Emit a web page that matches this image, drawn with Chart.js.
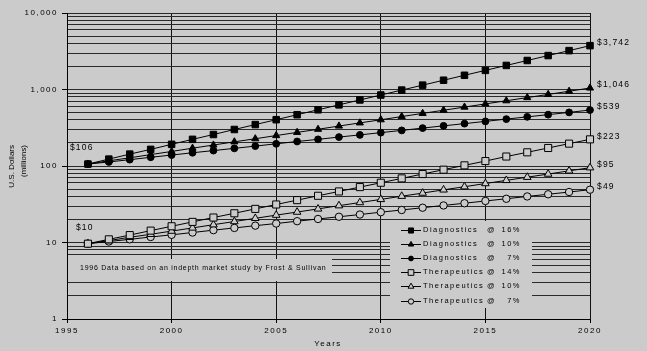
<!DOCTYPE html>
<html><head><meta charset="utf-8">
<script src="https://cdn.jsdelivr.net/npm/chart.js@4.4.1/dist/chart.umd.min.js"></script>
<style>html,body{margin:0;padding:0;background:#cbcbcb;}canvas{display:block}</style>
</head><body>
<canvas id="c" width="647" height="351"></canvas>
<script>
// ---- data ----
const years = [1996,1997,1998,1999,2000,2001,2002,2003,2004,2005,2006,2007,2008,2009,2010,2011,2012,2013,2014,2015,2016,2017,2018,2019,2020];
const diag16 = [106,123,143,165,192,223,258,300,348,403,468,543,630,730,847,983,1140,1322,1534,1779,2064,2394,2777,3222,3742];
const diag10 = [106,117,128,141,155,171,188,207,227,250,275,302,333,366,402,443,487,536,589,648,713,784,862,949,1046];
const diag7  = [106,113,121,130,139,149,159,170,182,195,209,223,239,255,273,292,313,335,358,383,410,439,469,502,539];
const ther14 = [9.65,11.0,12.5,14.3,16.3,18.6,21.2,24.1,27.5,31.4,35.8,40.8,46.5,53.0,60.4,68.9,78.5,89.5,102,116,133,151,172,196,223];
const ther10 = [9.65,10.6,11.7,12.8,14.1,15.5,17.1,18.8,20.7,22.8,25.0,27.5,30.3,33.3,36.6,40.3,44.3,48.8,53.6,59.0,64.9,71.4,78.5,86.4,95];
const ther7  = [9.65,10.3,11.0,11.8,12.6,13.5,14.5,15.5,16.6,17.7,19.0,20.3,21.7,23.2,24.9,26.6,28.5,30.5,32.6,34.9,37.3,40.0,42.7,45.7,49];
const seriesNames = ['Diagnostics','Diagnostics','Diagnostics','Therapeutics','Therapeutics','Therapeutics'];
const seriesRates = ['16%','10%','7%','14%','10%','7%'];
const xTickLabels = [1995,2000,2005,2010,2015,2020];
const yMajorTicks = [1,10,100,1000,10000];
const yMajorLabels = ['1','10','100','1,000','10,000'];
const noteText = '1996 Data based on an indepth market study by Frost & Sullivan';
const xTitle = 'Years';
const yTitle = ['U.S. Dollars','(millions)'];

// ---- styles ----
const BG = '#cbcbcb';
const FONT = '"Liberation Sans", Arial, Helvetica, sans-serif';
const allSeries = [diag16, diag10, diag7, ther14, ther10, ther7];
const styles = [
  {ps:'rect', r:4.6, fill:'#000'},
  {ps:'triangle', r:4.1, fill:'#000'},
  {ps:'circle', r:3.4, fill:'#000'},
  {ps:'rect', r:5, fill:BG},
  {ps:'triangle', r:4.4, fill:BG},
  {ps:'circle', r:3.7, fill:BG}
];

const yGridValues = [];
for (let e = 0; e < 4; e++) for (let s = 1; s < 10; s++) yGridValues.push(s * Math.pow(10, e));
yGridValues.push(10000);
const isMajor = v => yMajorTicks.indexOf(Math.round(v)) >= 0;

const datasets = allSeries.map((arr, i) => ({
  label: seriesNames[i] + ' @ ' + seriesRates[i],
  data: years.map((yr, j) => ({x: yr, y: arr[j]})),
  borderColor: '#000',
  borderWidth: 1,
  pointStyle: styles[i].ps,
  pointRadius: styles[i].r,
  pointBackgroundColor: styles[i].fill,
  pointBorderColor: '#000',
  pointBorderWidth: 1,
  fill: false,
  tension: 0,
  clip: false
}));

const bgPlugin = {
  id: 'bgfill',
  beforeDraw(chart) {
    const c = chart.ctx;
    c.save(); c.fillStyle = BG; c.fillRect(0, 0, chart.width, chart.height); c.restore();
    c.letterSpacing = '1.5px';
  },
  afterDraw(chart) {
    const ctx = chart.ctx, xs = chart.scales.x, ys = chart.scales.y;
    ctx.save();
    // boxes hiding gridlines
    ctx.fillStyle = BG;
    ctx.fillRect(68, 259, 264, 22);
    ctx.fillRect(390, 221, 142, 87);
    // note
    ctx.fillStyle = '#000';
    ctx.textBaseline = 'middle';
    ctx.textAlign = 'left';
    ctx.font = '7px ' + FONT;
    ctx.letterSpacing = '0.75px';
    ctx.fillText(noteText, 80, 268);
    // legend
    ctx.font = '7.5px ' + FONT;
    ctx.letterSpacing = '1.5px';
    datasets.forEach((ds, i) => {
      const y = 230 + i * 14.1;
      ctx.strokeStyle = '#000'; ctx.lineWidth = 1;
      ctx.beginPath(); ctx.moveTo(401, Math.round(y) + 0.5); ctx.lineTo(421, Math.round(y) + 0.5); ctx.stroke();
      ctx.fillStyle = styles[i].fill;
      Chart.helpers.drawPoint(ctx, {pointStyle: styles[i].ps, rotation: 0, radius: styles[i].r - 1, borderWidth: 1}, 411, Math.round(y) + 0.5);
      ctx.fillStyle = '#000';
      ctx.textAlign = 'left';
      ctx.fillText(seriesNames[i], 423, y);
      ctx.fillText('@', 487, y);
      ctx.textAlign = 'right';
      ctx.fillText(seriesRates[i], 521, y);
    });
    // end labels
    ctx.font = '8.5px ' + FONT;
    ctx.letterSpacing = '1.2px';
    ctx.textAlign = 'left';
    allSeries.forEach(arr => {
      const v = arr[arr.length - 1];
      const px = xs.getPixelForValue(years[years.length - 1]) + 7;
      const py = ys.getPixelForValue(v) - 3;
      ctx.fillText('$' + Math.round(v).toLocaleString('en-US'), px, py);
    });
    // start labels
    const p0x = xs.getPixelForValue(years[0]);
    ctx.fillText('$' + Math.round(diag16[0]), p0x - 18, ys.getPixelForValue(diag16[0]) - 16);
    ctx.fillText('$' + Math.round(ther14[0]), p0x - 12, ys.getPixelForValue(ther14[0]) - 16);
    // axis titles
    ctx.font = '8px ' + FONT;
    ctx.letterSpacing = '1.5px';
    ctx.textAlign = 'center';
    ctx.fillText(xTitle, 328, 344);
    ctx.letterSpacing = '0px';
    ctx.font = '8px ' + FONT;
    [11.5, 24].forEach((x, k) => {
      ctx.save();
      ctx.translate(x, 145);
      ctx.rotate(-Math.PI / 2);
      ctx.textAlign = 'right';
      ctx.textBaseline = 'middle';
      ctx.fillText(yTitle[k], 0, 0);
      ctx.restore();
    });
    ctx.restore();
  }
};

new Chart(document.getElementById('c'), {
  type: 'line',
  data: {datasets},
  plugins: [bgPlugin],
  options: {
    responsive: false,
    animation: false,
    devicePixelRatio: 1,
    layout: {padding: {left: 0, right: 57, top: 13, bottom: 0}},
    plugins: {legend: {display: false}, tooltip: {enabled: false}},
    scales: {
      x: {
        type: 'linear', min: 1995, max: 2020,
        afterBuildTicks: s => { s.ticks = xTickLabels.map(v => ({value: v})); },
        afterFit: s => { s.height = 32; },
        grid: {color: '#111', lineWidth: 1, drawTicks: true, tickLength: 4, tickColor: '#000'},
        border: {display: true, color: '#000', width: 1},
        ticks: {color: '#000', font: {family: FONT, size: 8}, padding: 3, maxRotation: 0, autoSkip: false,
                callback: v => String(v)}
      },
      y: {
        type: 'logarithmic', min: 1, max: 10000,
        afterBuildTicks: s => { s.ticks = yGridValues.map(v => ({value: v, major: isMajor(v)})); },
        afterFit: s => { s.width = 67; },
        grid: {color: '#2a2a2a', lineWidth: 1, drawTicks: true, tickLength: 5,
               tickColor: c => (c.tick && isMajor(c.tick.value)) ? '#000' : 'rgba(0,0,0,0)'},
        border: {display: true, color: '#000', width: 1},
        ticks: {color: '#000', font: {family: FONT, size: 8}, padding: 4, autoSkip: false,
                callback: v => { const k = yMajorTicks.indexOf(Math.round(v)); return k >= 0 ? yMajorLabels[k] : ''; }}
      }
    }
  }
});
</script>
</body></html>
